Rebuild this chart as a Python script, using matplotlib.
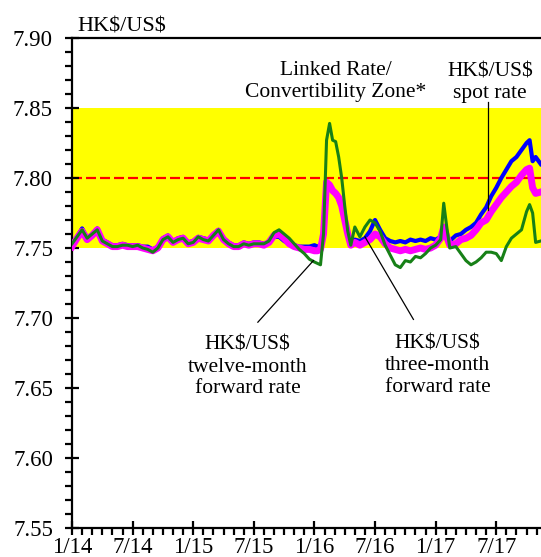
import numpy as np
from matplotlib import pyplot as plt
from matplotlib.ticker import MultipleLocator

plt.rcParams['font.family'] = ['Liberation Serif', 'DejaVu Serif']

# months since January 2014
months = [0, 0.5, 1.0, 1.5, 2.0, 2.5, 3.0, 3.5, 4.0, 4.5, 5.0, 5.5, 6.0, 6.5, 7.0, 7.5,
          8.0, 8.5, 9.0, 9.5, 10.0, 10.5, 11.0, 11.5, 12.0, 12.5, 13.0, 13.5, 14.0, 14.5,
          15.0, 15.5, 16.0, 16.5, 17.0, 17.5, 18.0, 18.5, 19.0, 19.5, 20.0, 20.5, 21.0,
          21.5, 22.0, 22.5, 23.0, 23.5, 24.0, 24.3, 24.6, 24.9, 25.2, 25.5, 25.8, 26.1,
          26.4, 26.7, 27.0, 27.3, 27.6, 28.0, 28.5, 29.0, 29.5, 30.0, 30.5, 31.0, 31.5,
          32.0, 32.5, 33.0, 33.5, 34.0, 34.5, 35.0, 35.5, 36.0, 36.5, 36.8, 37.1, 37.4,
          38.0, 38.5, 39.0, 39.5, 40.0, 40.5, 41.0, 41.5, 42.0, 42.5, 43.0, 43.5, 44.0,
          44.5, 45.0, 45.3, 45.6, 45.9, 46.4]

spot = [7.752, 7.758, 7.764, 7.757, 7.760, 7.764, 7.756, 7.754, 7.752, 7.752, 7.753, 7.752,
        7.752, 7.752, 7.751, 7.751, 7.749, 7.751, 7.757, 7.759, 7.755, 7.757, 7.758, 7.754,
        7.755, 7.758, 7.757, 7.756, 7.760, 7.763, 7.757, 7.754, 7.752, 7.752, 7.754, 7.753,
        7.754, 7.754, 7.753, 7.754, 7.758, 7.758, 7.755, 7.753, 7.752, 7.751, 7.751, 7.751,
        7.752, 7.751, 7.752, 7.760, 7.795, 7.793, 7.790, 7.788, 7.786, 7.780, 7.770, 7.760,
        7.753, 7.756, 7.755, 7.757, 7.762, 7.770, 7.763, 7.757, 7.755, 7.754, 7.755, 7.754,
        7.756, 7.755, 7.756, 7.755, 7.757, 7.756, 7.758, 7.760, 7.757, 7.755, 7.759, 7.760,
        7.763, 7.765, 7.768, 7.774, 7.779, 7.787, 7.793, 7.800, 7.806, 7.812, 7.815, 7.820,
        7.825, 7.827, 7.812, 7.815, 7.810]

three_month = [7.751, 7.757, 7.762, 7.756, 7.759, 7.763, 7.755, 7.753, 7.751, 7.751, 7.752,
               7.751, 7.751, 7.751, 7.750, 7.749, 7.748, 7.750, 7.756, 7.758, 7.754, 7.756,
               7.757, 7.753, 7.754, 7.757, 7.756, 7.755, 7.759, 7.762, 7.756, 7.753, 7.751,
               7.751, 7.753, 7.752, 7.753, 7.753, 7.752, 7.754, 7.759, 7.760, 7.757, 7.753,
               7.751, 7.750, 7.749, 7.749, 7.748, 7.748, 7.749, 7.760, 7.797, 7.795, 7.791,
               7.789, 7.786, 7.780, 7.770, 7.760, 7.752, 7.754, 7.752, 7.754, 7.756, 7.760,
               7.758, 7.753, 7.750, 7.749, 7.748, 7.749, 7.748, 7.749, 7.750, 7.749, 7.750,
               7.752, 7.757, 7.765, 7.758, 7.752, 7.753, 7.756, 7.757, 7.759, 7.763, 7.768,
               7.770, 7.776, 7.781, 7.786, 7.790, 7.794, 7.797, 7.802, 7.806, 7.807, 7.793,
               7.789, 7.790]

twelve_month = [7.753, 7.758, 7.763, 7.757, 7.760, 7.763, 7.755, 7.753, 7.751, 7.751, 7.752,
                7.752, 7.751, 7.752, 7.750, 7.749, 7.747, 7.750, 7.756, 7.758, 7.754, 7.756,
                7.757, 7.753, 7.754, 7.758, 7.756, 7.755, 7.759, 7.763, 7.756, 7.753, 7.751,
                7.751, 7.753, 7.752, 7.753, 7.753, 7.753, 7.755, 7.761, 7.763, 7.760, 7.757,
                7.753, 7.749, 7.746, 7.742, 7.740, 7.739, 7.738, 7.760, 7.827, 7.839, 7.827,
                7.826, 7.815, 7.800, 7.780, 7.762, 7.752, 7.765, 7.758, 7.765, 7.770, 7.768,
                7.762, 7.752, 7.745, 7.738, 7.736, 7.741, 7.740, 7.744, 7.743, 7.746, 7.750,
                7.752, 7.756, 7.782, 7.765, 7.750, 7.751, 7.746, 7.741, 7.738, 7.740, 7.743,
                7.747, 7.747, 7.746, 7.741, 7.751, 7.757, 7.760, 7.763, 7.776, 7.781, 7.775,
                7.754, 7.755]

zone_low, zone_high = 7.75, 7.85
linked_rate = 7.80

tick_months = [0, 6, 12, 18, 24, 30, 36, 42]
tick_labels = ['1/14', '7/14', '1/15', '7/15', '1/16', '7/16', '1/17', '7/17']

fig = plt.figure(figsize=(5.41, 5.57), dpi=100)
ax = fig.add_axes([72 / 541, 1 - 528 / 557, 1 - 72 / 541, (528 - 38) / 557])

ax.axhspan(zone_low, zone_high, color='#FFFF00', lw=0, zorder=0)
ax.axhline(linked_rate, color='#FF0000', lw=1.6, dashes=(4.5, 1.8), zorder=1)

ax.plot(months, spot, color='#0000FF', lw=3.0, zorder=2)
ax.plot(months, three_month, color='#FF00FF', lw=5.0, zorder=3)
ax.plot(months, twelve_month, color='#178017', lw=2.2, zorder=4)

ax.set_xlim(0, 46.43)
ax.set_ylim(7.55, 7.90)
ax.set_xticks(tick_months)
ax.set_xticklabels(tick_labels)
ax.xaxis.set_minor_locator(MultipleLocator(1))
ax.yaxis.set_major_locator(MultipleLocator(0.05))
ax.yaxis.set_minor_locator(MultipleLocator(0.01))
ax.yaxis.set_major_formatter(plt.FormatStrFormatter('%.2f'))

ax.spines['right'].set_visible(False)
for s in ['left', 'bottom', 'top']:
    ax.spines[s].set_linewidth(1.6)
ax.tick_params(which='major', direction='inout', length=9.5, width=1.6, labelsize=16.5)
ax.tick_params(which='minor', direction='out', length=5, width=1.6)
ax.tick_params(axis='y', which='major', pad=9)
ax.tick_params(axis='x', which='major', pad=2)
ax.tick_params(axis='y', which='both', right=False)

ax.text(0.011, 1.003, r'HK\$/US\$', transform=ax.transAxes, fontsize=16,
        ha='left', va='bottom')

ax.text(26.1, 7.869, 'Linked Rate/\nConvertibility Zone*', fontsize=15.5,
        ha='center', va='center', linespacing=1.2)
ax.text(41.4, 7.868, 'HK\\$/US\\$\nspot rate', fontsize=15.5,
        ha='center', va='center', linespacing=1.2)
ax.text(17.4, 7.665, 'HK\\$/US\\$\ntwelve-month\nforward rate', fontsize=15.5,
        ha='center', va='center', linespacing=1.2)
ax.text(36.2, 7.666, 'HK\\$/US\\$\nthree-month\nforward rate', fontsize=15.5,
        ha='center', va='center', linespacing=1.2)

ax.plot([18.4, 23.9], [7.697, 7.741], color='black', lw=0.9, zorder=5)
ax.plot([29.0, 33.8], [7.758, 7.699], color='black', lw=0.9, zorder=5)
ax.plot([41.2, 41.2], [7.854, 7.777], color='black', lw=0.9, zorder=5)

fig.savefig('out.png', dpi=100)
